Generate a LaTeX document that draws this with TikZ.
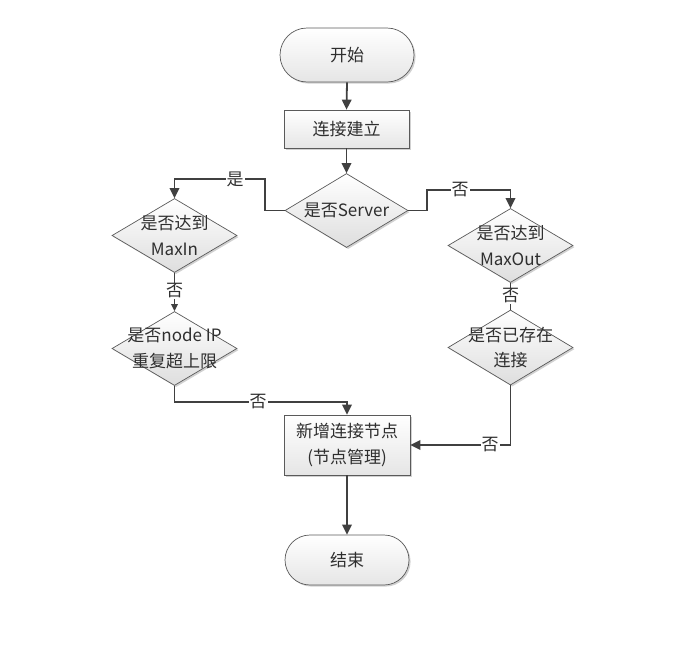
\documentclass[tikz,border=0pt]{standalone}
\usepackage{fontspec}
\setmainfont{Noto Sans CJK SC}
\usetikzlibrary{shapes.geometric,shapes.misc,arrows.meta,shadows}
\definecolor{linecol}{HTML}{404040}
\definecolor{edgecol}{HTML}{5A5A5A}
\definecolor{txtcol}{HTML}{2E2E2E}
\begin{document}
\begin{tikzpicture}[x=1pt,y=-1pt,
  font=\fontsize{17}{25.5}\selectfont, text=txtcol,
  boxbase/.style={draw=edgecol, line width=0.7pt, top color=white, bottom color=black!10,
    drop shadow={shadow xshift=1.6pt, shadow yshift=-1.6pt, fill=black!30, opacity=0.6},
    inner sep=0pt, align=center},
  pill/.style={boxbase, rounded rectangle},
  procbox/.style={boxbase, rectangle},
  decide/.style={boxbase, diamond, minimum width=125pt, minimum height=74pt, bottom color=black!13},
  dtext/.style={align=center, inner sep=0pt, text=txtcol},
  flow/.style={draw=linecol, line width=1.8pt},
  arr/.style={flow, -{Triangle[length=10pt,width=9.5pt]}},
  smallarr/.style={flow, -{Triangle[length=7pt,width=6.5pt]}},
  edgelbl/.style={fill=white, inner sep=1pt, text=txtcol}
]
\useasboundingbox (0,0) rectangle (690,659);

% terminals and process boxes
\node[pill, minimum width=134pt, minimum height=54pt] (start) at (347,55) {开始};
\node[procbox, minimum width=125pt, minimum height=38pt] (conn) at (346.5,129) {连接建立};
\node[procbox, minimum width=126pt, minimum height=60pt] (add) at (347,445) {新增连接节点\\(节点管理)};
\node[pill, minimum width=124pt, minimum height=50pt] (stop) at (347,560) {结束};

% decisions
\node[decide, minimum width=123pt, label={[dtext]center:是否Server}] (server) at (346.5,210.5) {};
\node[decide, label={[dtext]center:是否达到\\MaxIn}] (maxin) at (174.5,235.5) {};
\node[decide, label={[dtext]center:是否node IP\\重复超上限}] (nodeip) at (174.5,348.5) {};
\node[decide, label={[dtext]center:是否达到\\MaxOut}] (maxout) at (510.5,245.5) {};
\node[decide, minimum height=75pt, label={[dtext]center:是否已存在\\连接}] (exist) at (510.5,347.5) {};

% bend points
\coordinate (yesbend) at (265,179);
\coordinate (nobend) at (427,190);
\coordinate (ipbend) at (174.5,402);

% connectors
\draw[arr] (start.south) -- (conn.north);
\draw[arr] (conn.south) -- (server.north);
\draw[arr] (server.west) -| (yesbend) -| (maxin.north);
\draw[arr] (server.east) -| (nobend) -| (maxout.north);
\draw[smallarr] (maxin.south) -- (nodeip.north);
\draw[flow] (maxout.south) -- (exist.north);
\draw[arr] (nodeip.south) -- (ipbend) -| (add.north);
\draw[arr] (exist.south) |- (add.east);
\draw[arr] (add.south) -- (stop.north);

% connector labels
\node[edgelbl] (lyes) at (235,179) {是};
\node[edgelbl] (lnoright) at (460,190) {否};
\node[edgelbl] (lnomaxin) at (174.5,291) {否};
\node[edgelbl] (lnomaxout) at (510.5,296) {否};
\node[edgelbl] (lnoip) at (258,402) {否};
\node[edgelbl] (lnoexist) at (490,445) {否};
\end{tikzpicture}
\end{document}
